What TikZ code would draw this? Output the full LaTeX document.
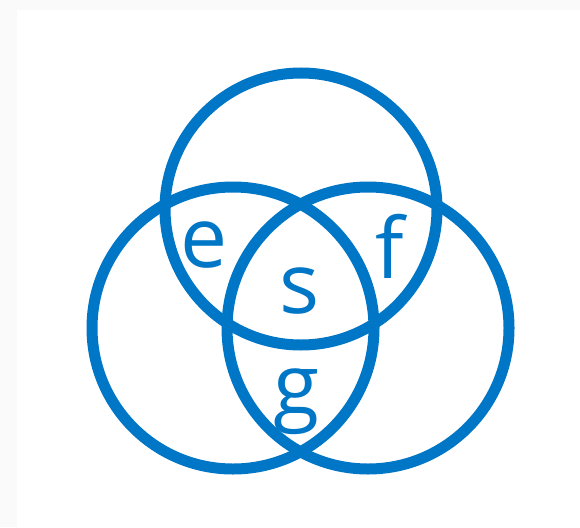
\documentclass[tikz,border=0pt]{standalone}
\usepackage{fontspec}
\setmainfont{Open Sans}
\definecolor{vblue}{HTML}{0076C6}
\definecolor{bgstrip}{HTML}{FAFAFA}
\begin{document}
\begin{tikzpicture}[x=1pt,y=-1pt,
  ring/.style={draw=vblue,line width=11pt},
  lbl/.style={text=vblue,inner sep=0pt,anchor=base,font=\fontsize{84}{84}\selectfont}]
\useasboundingbox (0,0) rectangle (580,527);
\fill[white] (0,0) rectangle (580,527);
\fill[bgstrip] (0,0) rectangle (580,10);
\fill[bgstrip] (0,0) rectangle (17,527);
\draw[ring] (301,209) circle[radius=136];
\draw[ring] (233,328) circle[radius=141];
\draw[ring] (368,328) circle[radius=141];
\node[lbl] (e) at (204,267) {e};
\node[lbl] (f) at (390,278) {f};
\node[lbl] (s) at (300,313) {s};
\node[lbl] (g) at (297,414) {g};
\end{tikzpicture}
\end{document}
